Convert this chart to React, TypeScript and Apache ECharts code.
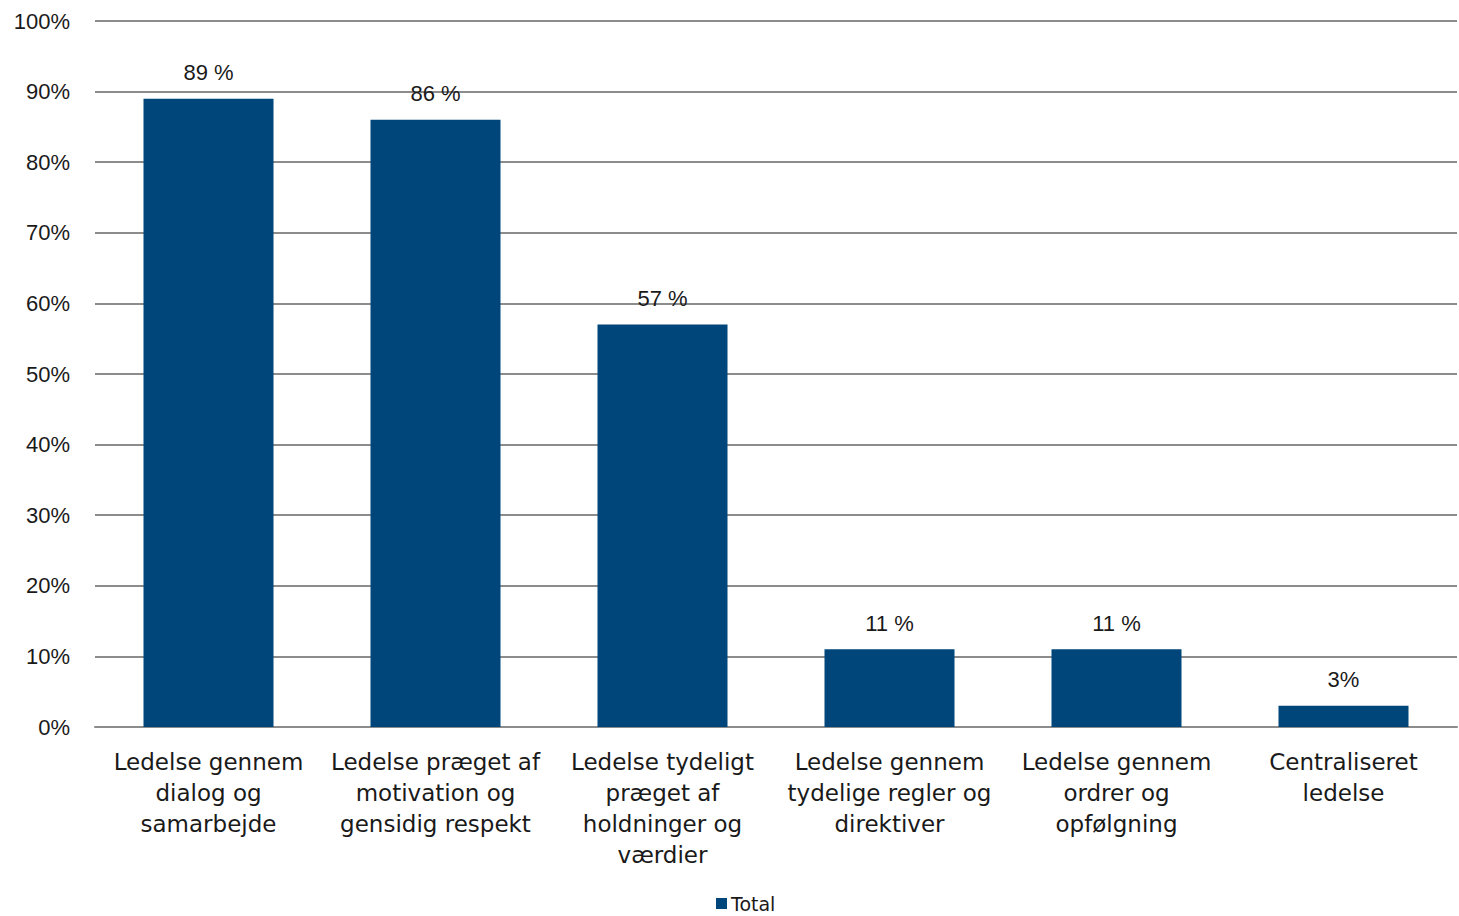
import React, { useEffect, useRef } from "react";
import * as echarts from "echarts";

const categories = [
  "Ledelse gennem\ndialog og\nsamarbejde",
  "Ledelse præget af\nmotivation og\ngensidig respekt",
  "Ledelse tydeligt\npræget af\nholdninger og\nværdier",
  "Ledelse gennem\ntydelige regler og\ndirektiver",
  "Ledelse gennem\nordrer og\nopfølgning",
  "Centraliseret\nledelse",
];
const totalValues = [89, 86, 57, 11, 11, 3];
const valueLabels = ["89 %", "86 %", "57 %", "11 %", "11 %", "3%"];

const FONT = "'Liberation Sans', Arial, sans-serif";
const WIDE = "'DejaVu Sans', sans-serif";

export default function App() {
  const ref = useRef<HTMLDivElement>(null);
  useEffect(() => {
    if (!ref.current) return;
    const chart = echarts.init(ref.current, null, { renderer: "svg" });
    chart.setOption({
      animation: false,
      backgroundColor: "#ffffff",
      grid: { left: 95, right: 2, top: 21, bottom: 189, containLabel: false },
      legend: {
        top: 889,
        left: 711,
        itemWidth: 11,
        itemHeight: 11,
        itemGap: 5,
        icon: "rect",
        textStyle: { fontFamily: WIDE, fontSize: 19, color: "#1a1a1a", padding: [0, 0, 0, -1] },
        data: ["Total"],
      },
      xAxis: {
        type: "category",
        data: categories,
        axisTick: { show: false },
        axisLine: { show: true, lineStyle: { color: "#8c8c8c", width: 2 } },
        axisLabel: {
          interval: 0,
          margin: 19,
          fontFamily: WIDE,
          fontSize: 23,
          lineHeight: 31,
          color: "#1a1a1a",
        },
      },
      yAxis: {
        type: "value",
        min: 0,
        max: 100,
        interval: 10,
        axisLine: { show: false },
        axisTick: { show: false },
        splitLine: { lineStyle: { color: "#8c8c8c", width: 2 } },
        axisLabel: {
          formatter: "{value}%",
          margin: 25,
          fontFamily: FONT,
          fontSize: 22,
          color: "#1a1a1a",
        },
      },
      series: [
        {
          name: "Total",
          type: "bar",
          data: totalValues,
          barWidth: 130,
          itemStyle: { color: "#00467a" },
          label: {
            show: true,
            position: "top",
            distance: 15,
            fontFamily: FONT,
            fontSize: 22,
            color: "#1a1a1a",
            formatter: (p: any) => valueLabels[p.dataIndex],
          },
        },
      ],
    });
    return () => chart.dispose();
  }, []);
  return (
    <div
      ref={ref}
      style={{ position: "absolute", left: 0, top: 0, width: 1459, height: 916 }}
    />
  );
}
